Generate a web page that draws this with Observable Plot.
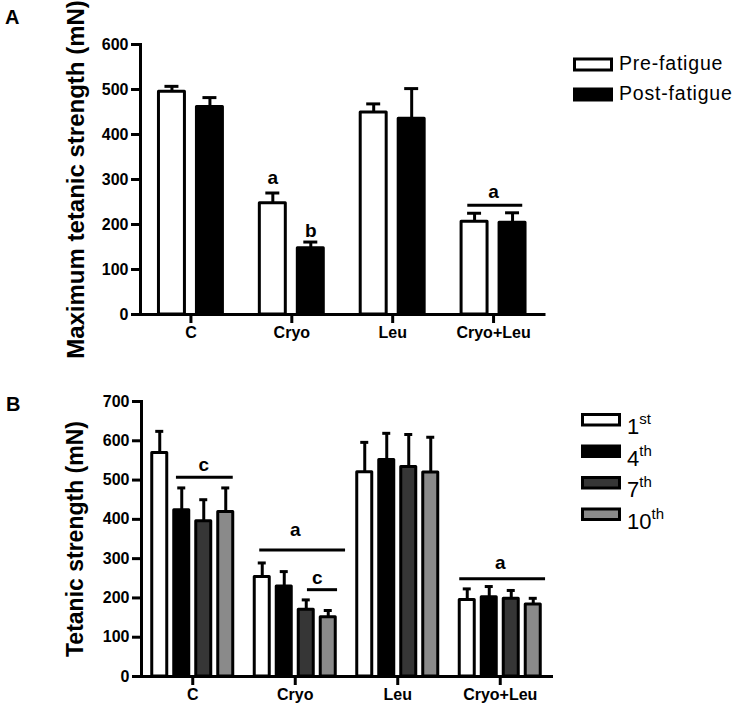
<!DOCTYPE html>
<html><head><meta charset="utf-8">
<script src="https://cdn.jsdelivr.net/npm/d3@7"></script>
<script src="https://cdn.jsdelivr.net/npm/@observablehq/plot@0.6"></script>
<style>
body{margin:0;background:#fff;}
#wrap{position:relative;width:740px;height:711px;overflow:hidden;font-family:"Liberation Sans",Arial,sans-serif;color:#000;}
#wrap > *{position:absolute;}
</style></head><body><div id="wrap"></div>
<script>
// ---------- data ----------
const categories = ["C", "Cryo", "Leu", "Cryo+Leu"];

// Panel A
const seriesA = ["Pre-fatigue", "Post-fatigue"];
const colorsA = ["#ffffff", "#000000"];
const preMean = [495, 247, 449, 206];
const preErr  = [12, 23, 19, 19];
const postMean = [461, 147, 435, 204];
const postErr  = [21, 14, 67, 22];
const yTicksA = [0, 100, 200, 300, 400, 500, 600];
const titleA = "Maximum tetanic strength (mN)";
const sigLinesA = [{cat: "Cryo+Leu", from: "Pre-fatigue", to: "Post-fatigue", y: 243}];
const sigLabelsA = [
  {cat: "Cryo", at: "Pre-fatigue", y: 290, text: "a", between: false},
  {cat: "Cryo", at: "Post-fatigue", y: 172, text: "b", between: false},
  {cat: "Cryo+Leu", at: "Pre-fatigue", y: 258, text: "a", between: true}
];

// Panel B
const seriesB = ["1st", "4th", "7th", "10th"];
const seriesBnum = ["1", "4", "7", "10"];
const seriesBsup = ["st", "th", "th", "th"];
const colorsB = ["#ffffff", "#000000", "#363636", "#8a8a8a"];
const mean1st  = [569, 253, 520, 195];
const err1st   = [55, 36, 76, 28];
const mean4th  = [423, 229, 551, 202];
const err4th   = [57, 38, 68, 27];
const mean7th  = [395, 170, 533, 198];
const err7th   = [55, 25, 83, 21];
const mean10th = [419, 151, 519, 183];
const err10th  = [61, 17, 90, 16];
const yTicksB = [0, 100, 200, 300, 400, 500, 600, 700];
const titleB = "Tetanic strength (mN)";
const sigLinesB = [
  {cat: "C", from: "4th", to: "10th", y: 507},
  {cat: "Cryo", from: "1st", to: "10th", y: 322},
  {cat: "Cryo", from: "7th", to: "10th", y: 221},
  {cat: "Cryo+Leu", from: "1st", to: "10th", y: 249}
];
const sigLabelsB = [
  {cat: "C", at: "7th", y: 522, text: "c", between: false},
  {cat: "Cryo", at: "4th", y: 357, text: "a", between: true},
  {cat: "Cryo", at: "7th", y: 236, text: "c", between: true},
  {cat: "Cryo+Leu", at: "4th", y: 274, text: "a", between: true}
];

// ---------- build tables ----------
const tableA = seriesA.flatMap((s, i) => categories.map((c, j) => ({
  cat: c, series: s, value: [preMean, postMean][i][j], err: [preErr, postErr][i][j]
})));
const meansB = [mean1st, mean4th, mean7th, mean10th];
const errsB = [err1st, err4th, err7th, err10th];
const tableB = seriesB.flatMap((s, i) => categories.map((c, j) => ({
  cat: c, series: s, value: meansB[i][j], err: errsB[i][j]
})));

const FONT = '"Liberation Sans", Arial, sans-serif';

function panel(o) {
  const ruleMarks = o.lines.map((l, k) => Plot.ruleY([l], {
    fx: "cat", x1: "from", x2: "to", y: "y", stroke: "black", strokeWidth: 3,
    insetLeft: o.lineInsets[k][0], insetRight: o.lineInsets[k][1]
  }));
  return Plot.plot({
    width: o.width, height: o.height,
    marginLeft: o.mL, marginRight: o.mR, marginTop: o.mT, marginBottom: o.mB,
    style: {background: "transparent", fontFamily: FONT, overflow: "visible", color: "#000"},
    fx: {domain: categories, padding: 0, round: false, label: null},
    x: {domain: o.series, paddingInner: o.padIn, paddingOuter: o.padOut, round: false, axis: null},
    y: {domain: o.yDomain, label: null},
    color: {domain: o.series, range: o.colors},
    marks: [
      Plot.ruleX(o.data, {fx: "cat", x: "series", y1: "value", y2: d => d.value + d.err, stroke: "black", strokeWidth: 3}),
      Plot.tickY(o.data, {fx: "cat", x: "series", y: d => d.value + d.err, stroke: "black", strokeWidth: 3, insetLeft: o.capInset, insetRight: o.capInset}),
      Plot.barY(o.data, {fx: "cat", x: "series", y1: 0, y2: "value", fill: "series", stroke: "black", strokeWidth: 3, strokeLinejoin: "round"}),
      ...ruleMarks,
      Plot.text(o.labels.filter(d => !d.between), {fx: "cat", x: "at", y: "y", text: "text", fontSize: o.letterSize, fontWeight: "bold", lineAnchor: "bottom", fill: "black"}),
      Plot.text(o.labels.filter(d => d.between), {fx: "cat", x: "at", y: "y", text: "text", dx: o.halfStep, fontSize: o.letterSize, fontWeight: "bold", lineAnchor: "bottom", fill: "black"}),
      Plot.frame({anchor: "bottom", stroke: "black", strokeWidth: 3}),
      Plot.frame({anchor: "left", stroke: "black", strokeWidth: 3, facetAnchor: "left"}),
      Plot.axisY({ticks: o.yTicks, tickSize: 9, tickPadding: 3, strokeWidth: 3, fontSize: 16, fontWeight: "bold", label: null, tickFormat: d3.format("d")}),
      Plot.axisFx({anchor: "bottom", tickSize: 9, tickPadding: 3, strokeWidth: 3, fontSize: 16, fontWeight: "bold", label: null}),
      Plot.text([o.title], {frameAnchor: "left", rotate: -90, dx: o.titleDx, fontSize: o.titleSize, fontWeight: "bold", textAnchor: "middle", lineAnchor: "bottom", facetAnchor: "left", fill: "black"})
    ]
  });
}

const wrap = document.getElementById("wrap");

const plotA = panel({
  data: tableA, series: seriesA, colors: colorsA, yDomain: [0, 600], yTicks: yTicksA,
  width: 560, height: 345, mL: 140, mR: 16.5, mT: 44, mB: 31,
  padIn: 0.316, padOut: 0.486, capInset: 6, halfStep: 19, letterSize: 19,
  title: titleA, titleDx: -57, titleSize: 24,
  lines: sigLinesA, lineInsets: [[6.2, 2.8]], labels: sigLabelsA
});
plotA.style.left = "0px"; plotA.style.top = "0px";
wrap.appendChild(plotA);

const plotB = panel({
  data: tableB, series: seriesB, colors: colorsB, yDomain: [0, 700], yTicks: yTicksB,
  width: 560, height: 366, mL: 141, mR: 9, mT: 56, mB: 35,
  padIn: 0.318, padOut: 0.4886, capInset: 3.5, halfStep: 11, letterSize: 19,
  title: titleB, titleDx: -59, titleSize: 23,
  lines: sigLinesB, lineInsets: [[2.2, 0], [5, -9.8], [8.7, -1.8], [0, -4.8]], labels: sigLabelsB
});
plotB.style.left = "0px"; plotB.style.top = "345px";
wrap.appendChild(plotB);

// ---------- legends & panel letters ----------
const ov = d3.select(wrap).append("svg")
  .attr("width", 740).attr("height", 711)
  .style("left", "0px").style("top", "0px")
  .style("font-family", FONT).style("pointer-events", "none");

ov.append("text").attr("x", 5).attr("y", 24).attr("font-size", 20).attr("font-weight", "bold").text("A");
ov.append("text").attr("x", 6).attr("y", 411).attr("font-size", 20).attr("font-weight", "bold").text("B");

const legA = ov.append("g");
seriesA.forEach((s, i) => {
  const y0 = 59 + i * 30;
  legA.append("rect").attr("x", 574.5).attr("y", y0).attr("width", 37).attr("height", 11)
    .attr("fill", colorsA[i]).attr("stroke", "black").attr("stroke-width", 3);
  legA.append("text").attr("x", 619).attr("y", y0 + 10.5).attr("font-size", 19.5)
    .attr("letter-spacing", "0.8px").text(s);
});

const legB = ov.append("g");
seriesB.forEach((s, i) => {
  const y0 = 414.5 + i * 31.5;
  legB.append("rect").attr("x", 582.5).attr("y", y0).attr("width", 37).attr("height", 10.5)
    .attr("fill", colorsB[i]).attr("stroke", "black").attr("stroke-width", 3);
  const t = legB.append("text").attr("x", 627).attr("y", y0 + 19.5).attr("font-size", 22);
  t.append("tspan").text(seriesBnum[i]);
  t.append("tspan").attr("dy", -10).attr("font-size", 15).text(seriesBsup[i]);
});
</script></body></html>
